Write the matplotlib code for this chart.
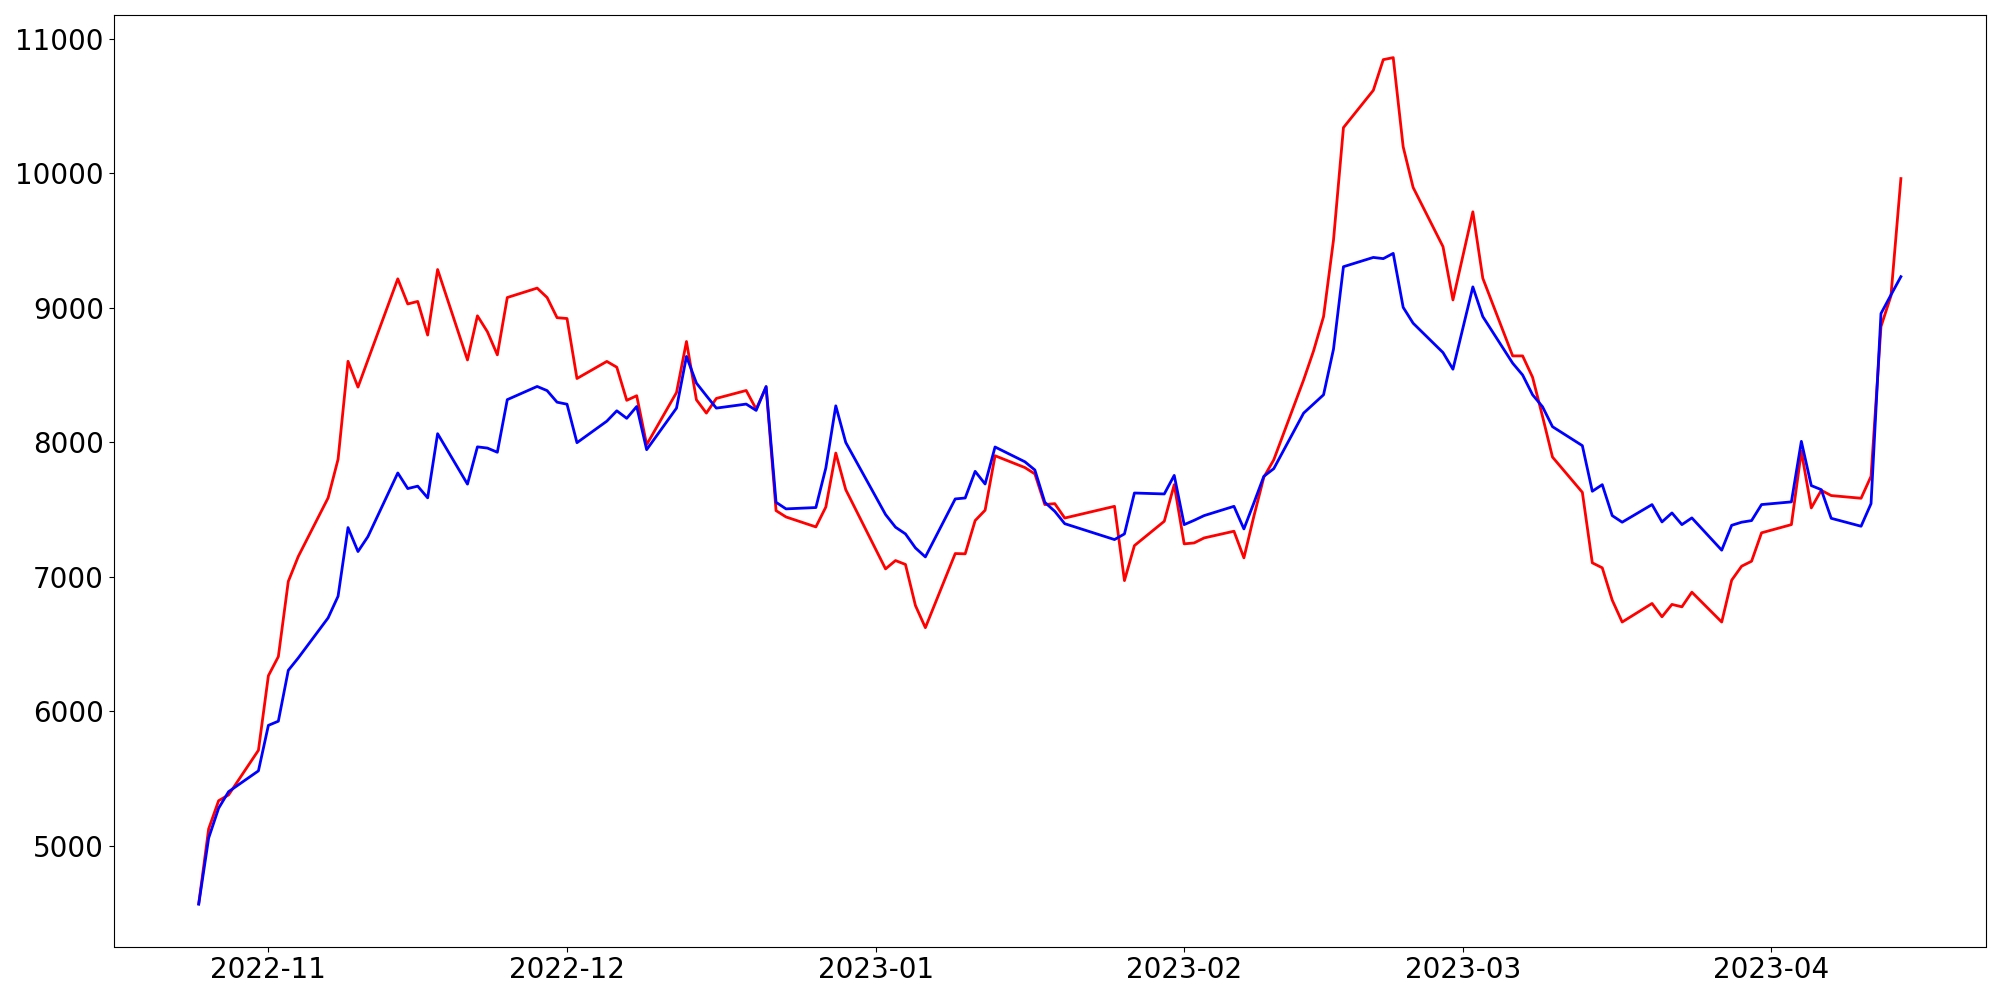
import matplotlib
matplotlib.use("Agg")
import matplotlib.pyplot as plt
import matplotlib.dates as mdates
import pandas as pd

# Trading days (weekdays, market holidays removed)
start_date = "2022-10-25"
end_date = "2023-04-14"
holidays = ["2022-12-30", "2023-01-23", "2023-01-24", "2023-03-01"]
dates = pd.bdate_range(start_date, end_date, freq="C", holidays=holidays)

red_values = [
    4570, 5127, 5336, 5379, 5711,
    6265, 6407, 6966, 7151, 7587, 7874, 8602, 8410, 8612, 9215, 9028, 9047, 8797, 9284,
    8612, 8940, 8822, 8650, 9076, 9146, 9076, 8926,
    8920, 8474, 8601, 8558, 8312, 8346, 7982, 8370, 8749, 8316, 8217, 8326, 8385, 8247,
    8410, 7492, 7445, 7371, 7519, 7920, 7648,
    7059, 7121, 7092, 6787, 6622, 7173, 7171, 7418, 7495, 7900, 7812, 7765, 7537, 7544,
    7437, 7524, 6972, 7232, 7413, 7685,
    7245, 7252, 7289, 7339, 7141, 7450, 7740, 7870, 8464, 8680, 8934, 9503, 10339, 10616,
    10844, 10859, 10196, 9894, 9454, 9058,
    9713, 9219, 8642, 8642, 8483, 8192, 7890, 7628, 7104, 7067, 6827, 6664, 6802, 6703,
    6795, 6777, 6886, 6664, 6975, 7079, 7116, 7327,
    7388, 7933, 7512, 7643, 7604, 7584, 7747, 8860, 9088, 9960,
]

blue_values = [
    4567, 5059, 5280, 5403, 5558,
    5896, 5927, 6305, 6397, 6695, 6856, 7366, 7188, 7299, 7772, 7656, 7674, 7587, 8064,
    7689, 7966, 7957, 7926, 8317, 8415, 8384, 8298,
    8283, 7997, 8157, 8234, 8178, 8266, 7945, 8254, 8638, 8440, 8346, 8254, 8284, 8237,
    8415, 7554, 7505, 7515, 7809, 8271, 7999,
    7463, 7369, 7319, 7215, 7148, 7579, 7586, 7784, 7690, 7965, 7855, 7794, 7554, 7487,
    7395, 7277, 7319, 7623, 7616, 7754,
    7388, 7420, 7455, 7524, 7356, 7549, 7747, 7804, 8217, 8285, 8353, 8692, 9305, 9374,
    9365, 9404, 9003, 8885, 8667, 8543,
    9155, 8934, 8588, 8500, 8353, 8264, 8116, 7975, 7636, 7685, 7455, 7406, 7537, 7408,
    7475, 7388, 7438, 7198, 7383, 7406, 7418, 7537,
    7557, 8007, 7678, 7648, 7435, 7376, 7544, 8957, 9095, 9231,
]

yticks = [5000, 6000, 7000, 8000, 9000, 10000, 11000]

fig = plt.figure(figsize=(20, 10), dpi=100)
ax = fig.add_axes([0.0568, 0.0535, 0.9362, 0.9312])
ax.plot(dates, red_values, color="red", linewidth=2)
ax.plot(dates, blue_values, color="blue", linewidth=2)

ax.set_yticks(yticks)
ax.xaxis.set_major_locator(mdates.MonthLocator())
ax.xaxis.set_major_formatter(mdates.DateFormatter("%Y-%m"))
ax.tick_params(axis="both", labelsize=20)

fig.savefig("out.png", dpi=100)
